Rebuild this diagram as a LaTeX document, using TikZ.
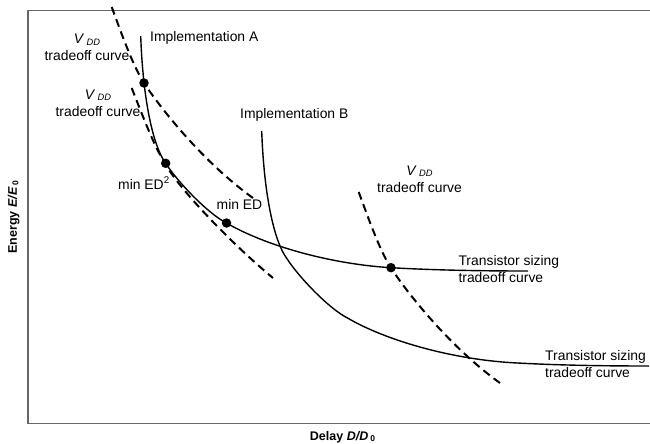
\documentclass[tikz,border=0pt]{standalone}
\usepackage{fontspec}
\setmainfont{Liberation Sans}
% supply-voltage symbol with its lowered subscript
\newcommand\vddsym{\textit{V}\,\raisebox{-1.7pt}{\fontsize{9.3}{10}\selectfont\itshape DD}}
\newcommand\zerosub{\,\raisebox{-1.5pt}{\fontsize{8.5}{9}\selectfont 0}}
\begin{document}
\begin{tikzpicture}[x=1pt,y=-1pt,
  frame/.style={draw=black!60, line width=1.4pt},
  solidcurve/.style={line width=1.4pt},
  vddcurve/.style={line width=2pt, dash pattern=on 8pt off 5pt},
  dotnode/.style={circle, fill=black, inner sep=0pt, minimum size=9.5pt},
  lbl/.style={font=\fontsize{13.9}{17}\selectfont, inner sep=0pt},
  axislbl/.style={font=\fontsize{12.5}{15}\selectfont\bfseries, inner sep=0pt},
  % energy-delay curve of one implementation (transistor sizing)
  pics/implcurve/.style={code={
    \draw[solidcurve] (140.7,36) .. controls (143,100) and (153,146) .. (165.7,163.3)
      .. controls (177,181) and (207,213) .. (226.5,223)
      .. controls (265,245.5) and (330,264) .. (391,267.7)
      .. controls (440,270.5) and (490,271) .. (528,271);}},
  % supply-voltage tradeoff curve
  pics/vddshape/.style={code={
    \draw[vddcurve] (111.7,7) .. controls (122,35) and (133,66) .. (144,83)
      .. controls (157,103) and (200,160) .. (253,198);}}
]
\useasboundingbox (0,0) rectangle (650,444);

% plot frame (left, top and bottom sides)
\coordinate (tl) at (28,10.7);
\coordinate (bl) at (28,423.3);
\coordinate (tr) at (650,10.7);
\coordinate (br) at (650,423.3);
\draw[frame] (tr) -- (tl) -- (bl) -- (br);

% implementation A and implementation B
\pic at (0,0) {implcurve};
\pic at (121,95) {implcurve};

% supply-voltage tradeoff curves
\pic at (0,0) {vddshape};
\pic at (247,185) {vddshape};
\draw[vddcurve] (131.7,88) .. controls (145,122) and (155,148) .. (166,165)
  .. controls (180,190) and (232,244) .. (273,278);

% operating points
\node[dotnode] (p1) at (144,83) {};
\node[dotnode] (p2) at (165.7,163.3) {};
\node[dotnode] (p3) at (226.5,223) {};
\node[dotnode] (p4) at (391,267.7) {};

% labels
\node[lbl, anchor=base west] (implA) at (150,41.7) {Implementation A};
\node[lbl, anchor=base west] (implB) at (240,118.3) {Implementation B};
\node[lbl, anchor=north, align=center] (vdd1) at (87,34) {\vddsym\\tradeoff curve};
\node[lbl, anchor=north, align=center] (vdd2) at (98,89.5) {\vddsym\\tradeoff curve};
\node[lbl, anchor=north, align=center] (vdd3) at (419.5,165.5) {\vddsym\\tradeoff curve};
\node[lbl, anchor=base west] (med2) at (118,189) {min ED\textsuperscript{2}};
\node[lbl, anchor=base west] (med) at (216.5,209.5) {min ED};
\node[lbl, anchor=north west, align=left] (ts1) at (458.3,255) {Transistor sizing\\tradeoff curve};
\node[lbl, anchor=north west, align=left] (ts2) at (545,350) {Transistor sizing\\tradeoff curve};

% axis titles
\node[axislbl, anchor=base] (xlab) at (342.5,440) {Delay \textit{D/D}\zerosub};
\node[axislbl, anchor=base, rotate=90] (ylab) at (16.8,217) {Energy \textit{E/E}\zerosub};
\end{tikzpicture}
\end{document}
